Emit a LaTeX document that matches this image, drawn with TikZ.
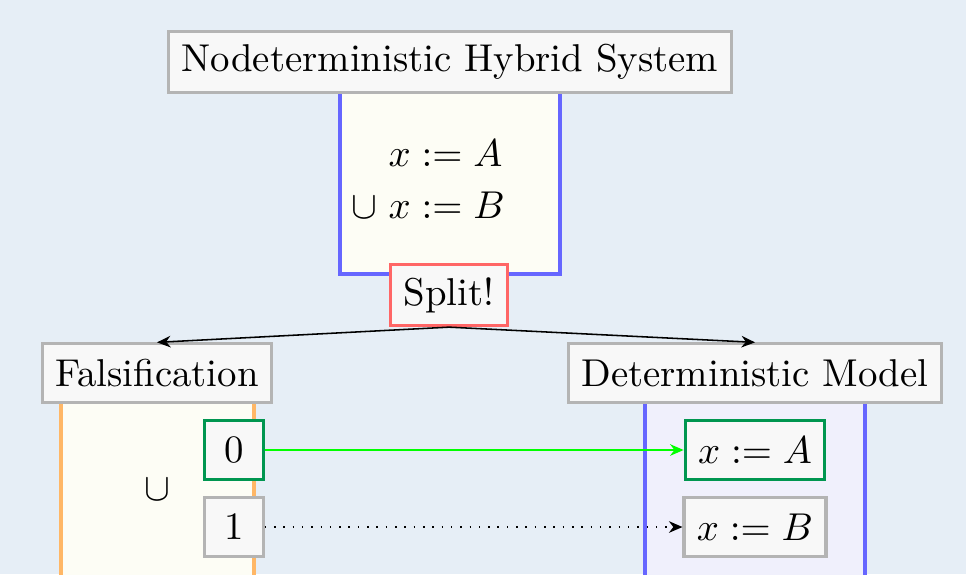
\documentclass[tikz,border=0pt]{standalone}
\usepackage{xcolor}
\usetikzlibrary{arrows.meta, positioning}
\definecolor{cbg}{RGB}{230, 238, 246}
\definecolor{cgrayline}{RGB}{180, 180, 180}
\definecolor{cnodefill}{RGB}{248, 248, 248}
\definecolor{civory}{RGB}{253, 253, 245}
\definecolor{clavender}{RGB}{240, 240, 252}
\definecolor{cblue}{RGB}{102, 102, 255}
\definecolor{corange}{RGB}{255, 183, 102}
\definecolor{cred}{RGB}{255, 102, 102}
\definecolor{cgreen}{RGB}{0, 150, 80}
\definecolor{carrowgreen}{RGB}{0, 255, 0}

\begin{document}
\begin{tikzpicture}[x=0.2577pt, y=-0.2577pt,
  head/.style={draw=cgrayline, fill=cnodefill, thick, minimum height=15pt},
  valbox/.style={draw=cgrayline, fill=cnodefill, thick, minimum height=15pt, minimum width=15pt},
  picked/.style={valbox, draw=cgreen},
  tip/.style={-{Stealth[length=3.5pt, width=3pt]}}]
  \clip (0,0) rectangle (966,574);
  \fill[cbg] (0,0) rectangle (966,574);
  % top: hybrid system
  \draw[cblue, thick, fill=civory] (340,80) rectangle (560,274);
  \node (choice) at (428,183) {$\begin{array}{r@{\hspace{3pt}}l} & x := A \\[1.3pt] \cup & x := B \end{array}$};
  \node[head] (hybrid) at (450,62) {Nodeterministic Hybrid System};
  \node[head, draw=cred] (split) at (449,295) {Split!};
  % left: falsification
  \draw[corange, thick, fill=civory] (61,390) rectangle (254,620);
  \node (union) at (157,490) {$\cup$};
  \node[head] (fals) at (157,373) {Falsification};
  \node[picked] (zero) at (234,450) {0};
  \node[valbox] (one) at (234,527) {1};
  % right: deterministic model
  \draw[cblue, thick, fill=clavender] (645,390) rectangle (865,620);
  \node[head] (det) at (755,373) {Deterministic Model};
  \node[picked] (xa) at (755,450) {$x := A$};
  \node[valbox] (xb) at (755,527) {$x := B$};
  % connectors
  \draw[tip] (split.south) -- (fals.north);
  \draw[tip] (split.south) -- (det.north);
  \draw[tip, carrowgreen] (zero.east) -- (xa.west);
  \draw[tip, dotted] (one.east) -- (xb.west);
\end{tikzpicture}
\end{document}
